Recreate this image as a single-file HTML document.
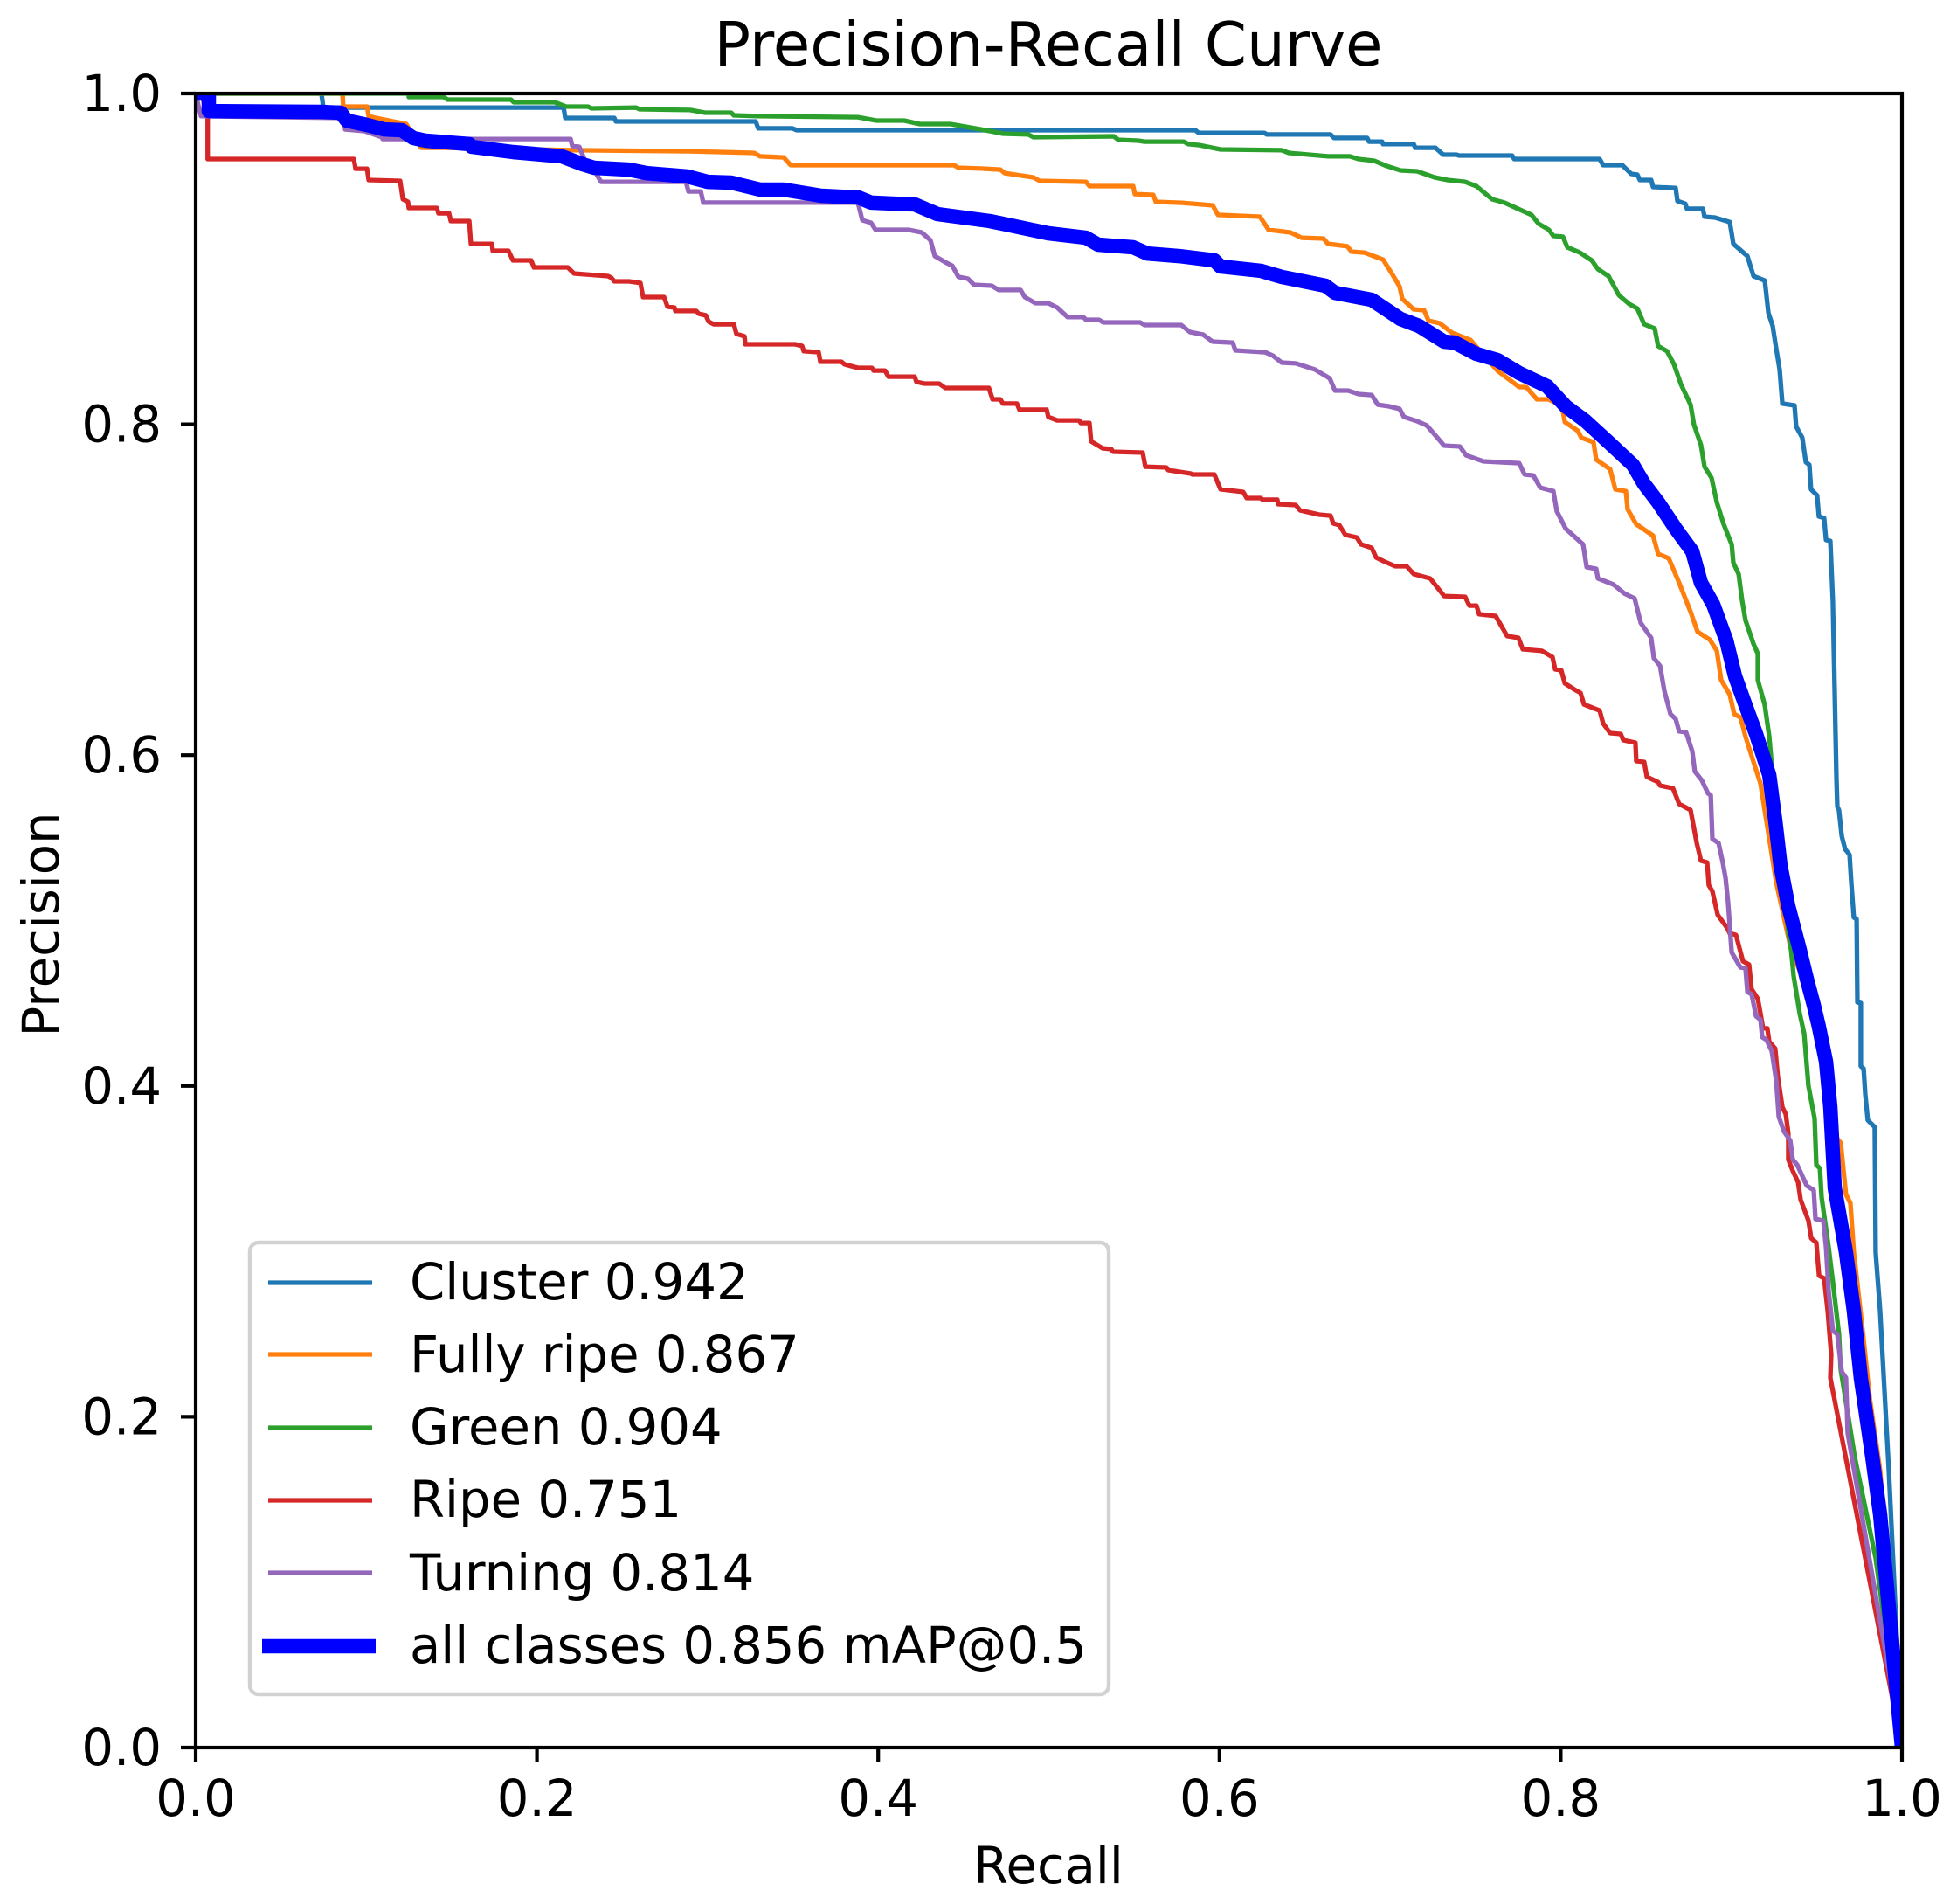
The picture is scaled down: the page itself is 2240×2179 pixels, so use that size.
<!DOCTYPE html>
<html lang="en">
<head>
<meta charset="utf-8">
<title>Precision-Recall Curve</title>
<style>
html,body{margin:0;padding:0;background:#fff}
svg{display:block}
text{font-family:"DejaVu Sans","Liberation Sans",sans-serif;fill:#000}
.lg{font-size:57.6px}
.tk{font-size:57.6px}
</style>
</head>
<body>
<svg id="chart" xmlns="http://www.w3.org/2000/svg" width="2240" height="2179" viewBox="0 0 2240 2179">
  <defs>
    <clipPath id="plot-clip"><rect x="224" y="107" width="1953" height="1893"/></clipPath>
  </defs>
  <rect x="0" y="0" width="2240" height="2179" fill="#fff"/>
  <g id="series-layer" clip-path="url(#plot-clip)" fill="none" stroke-linejoin="round"></g>
  <g id="tick-layer"></g>
  <rect x="224" y="107" width="1953" height="1893" fill="none" stroke="#000" stroke-width="4.2"/>
  <text x="1200" y="75" text-anchor="middle" font-size="69.1">Precision-Recall Curve</text>
  <text x="1200" y="2155" text-anchor="middle" font-size="57.6">Recall</text>
  <text transform="translate(67,1058) rotate(-90)" text-anchor="middle" font-size="57.6">Precision</text>
  <g>
    <rect x="286" y="1422" width="983" height="517" rx="10" ry="10" fill="#fff" fill-opacity="0.8" stroke="#d2d2d2" stroke-width="4.4"/>
    <line x1="307" x2="426" y1="1468" y2="1468" stroke="#1f77b4" stroke-width="5.3"/>
    <text class="lg" x="469" y="1487">Cluster 0.942</text>
    <line x1="307" x2="426" y1="1550" y2="1550" stroke="#ff7f0e" stroke-width="5.3"/>
    <text class="lg" x="469" y="1570">Fully ripe 0.867</text>
    <line x1="307" x2="426" y1="1634" y2="1634" stroke="#2ca02c" stroke-width="5.3"/>
    <text class="lg" x="469" y="1653">Green 0.904</text>
    <line x1="307" x2="426" y1="1717" y2="1717" stroke="#d62728" stroke-width="5.3"/>
    <text class="lg" x="469" y="1736">Ripe 0.751</text>
    <line x1="307" x2="426" y1="1800" y2="1800" stroke="#9467bd" stroke-width="5.3"/>
    <text class="lg" x="469" y="1820">Turning 0.814</text>
    <line x1="300" x2="430" y1="1884" y2="1884" stroke="#0000ff" stroke-width="16.5"/>
    <text class="lg" x="469" y="1903">all classes 0.856 mAP@0.5</text>
  </g>
</svg>
<script>
const xTickValues = [0, 0.2, 0.4, 0.6, 0.8, 1];
const yTickValues = [0, 0.2, 0.4, 0.6, 0.8, 1];
const xTickLabels = ['0.0', '0.2', '0.4', '0.6', '0.8', '1.0'];
const yTickLabels = ['0.0', '0.2', '0.4', '0.6', '0.8', '1.0'];

const clusterRecall = [0,.0737,.0748,.2156,.2166,.2453,.2463,.3282,.3297,.3497,.3523,.5858,.5878,.6262,.6278,.6651,.6672,.6866,.6877,.6953,.6959,.7138,.7148,.7266,.7312,.7389,.7404,.7716,.7727,.8228,.8249,.8361,.8413,.8449,.8464,.8530,.8541,.8674,.8684,.8730,.8740,.8833,.8843,.8904,.8991,.9012,.9094,.9130,.9196,.9217,.9242,.9263,.9283,.9299,.9370,.9380,.9416,.9437,.9457,.9467,.9503,.9513,.9544,.9555,.9580,.9595,.9616,.9621,.9631,.9647,.9667,.9693,.9703,.9718,.9734,.9739,.9759,.9759,.9775,.9785,.9800,.9841,.9846,.9872,.9923,1];
const clusterPrecision = [1,1,.9915,.9915,.9852,.9852,.9831,.9831,.9789,.9789,.9778,.9778,.9762,.9762,.9752,.9752,.9731,.9731,.9709,.9709,.9694,.9694,.9672,.9672,.9630,.9630,.9625,.9625,.9604,.9604,.9567,.9567,.9514,.9509,.9477,.9477,.9435,.9429,.9350,.9334,.9303,.9303,.9255,.9250,.9223,.9091,.9017,.8896,.8869,.8674,.8595,.8457,.8331,.8125,.8114,.7987,.7919,.7771,.7755,.7607,.7570,.7443,.7433,.7301,.7295,.6931,.5864,.5689,.5668,.5510,.5431,.5399,.5230,.5019,.5008,.4506,.4501,.4120,.4105,.3951,.3793,.3751,.2995,.2641,.1675,0];

const fullyRipeRecall = [0,.0860,.0865,.1004,.1014,.1055,.1234,.1321,.1464,.2217,.2898,.3272,.3308,.3446,.3487,.4444,.4470,.4603,.4716,.4741,.4910,.4946,.5218,.5238,.5494,.5504,.5612,.5627,.5781,.5960,.5991,.6237,.6288,.6416,.6482,.6610,.6636,.6749,.6774,.6851,.6959,.7010,.7056,.7071,.7138,.7199,.7225,.7291,.7363,.7471,.7629,.7757,.7798,.7860,.7931,.8008,.8024,.8100,.8121,.8192,.8208,.8290,.8320,.8382,.8392,.8443,.8541,.8571,.8633,.8694,.8761,.8802,.8874,.8915,.8940,.8991,.9017,.9053,.9083,.9130,.9171,.9263,.9350,.9483,.9555,.9606,.9641,.9672,.9698,.9718,.9775,.9811,.9872,1];
const fullyRipePrecision = [1,1,.9921,.9921,.9863,.9852,.9815,.9672,.9672,.9657,.9651,.9641,.9620,.9614,.9567,.9567,.9551,.9546,.9540,.9519,.9493,.9472,.9466,.9440,.9440,.9392,.9387,.9345,.9339,.9324,.9266,.9255,.9176,.9160,.9128,.9123,.9091,.9076,.9044,.9038,.8996,.8912,.8833,.8759,.8695,.8690,.8627,.8611,.8553,.8510,.8325,.8225,.8225,.8151,.8151,.8109,.8014,.7961,.7919,.7892,.7787,.7728,.7607,.7596,.7486,.7396,.7327,.7216,.7190,.7042,.6867,.6746,.6698,.6630,.6455,.6366,.6249,.6228,.6112,.5959,.5827,.5230,.4823,.4490,.4147,.3698,.3656,.3344,.3291,.2995,.2467,.2113,.1675,0];

const greenRecall = [0,.1249,.1249,.1454,.1475,.1848,.1864,.2104,.2171,.2299,.2320,.2581,.2601,.2898,.2985,.3139,.3154,.3292,.3881,.3989,.4153,.4245,.4424,.4603,.4731,.4880,.4910,.5381,.5407,.5525,.5561,.5791,.5817,.5883,.6006,.6365,.6406,.6636,.6764,.6815,.6907,.6979,.7061,.7158,.7261,.7337,.7440,.7506,.7598,.7670,.7829,.7870,.7931,.7957,.8013,.8039,.8111,.8182,.8218,.8280,.8341,.8402,.8449,.8489,.8551,.8571,.8623,.8664,.8705,.8761,.8781,.8822,.8843,.8884,.8915,.8955,.9002,.9012,.9043,.9063,.9083,.9130,.9155,.9155,.9196,.9222,.9237,.9334,.9350,.9365,.9401,.9427,.9452,.9488,.9498,.9519,.9529,.9570,.9595,.9631,.9641,.9723,.9846,1];
const greenPrecision = [1,1,.9979,.9979,.9963,.9963,.9947,.9947,.9921,.9921,.9910,.9915,.9905,.9900,.9884,.9884,.9868,.9863,.9857,.9836,.9836,.9815,.9815,.9783,.9757,.9752,.9736,.9741,.9720,.9715,.9709,.9709,.9694,.9688,.9662,.9657,.9641,.9620,.9620,.9604,.9593,.9562,.9535,.9530,.9493,.9477,.9466,.9440,.9361,.9340,.9266,.9213,.9176,.9139,.9134,.9070,.9039,.8991,.8938,.8896,.8780,.8727,.8700,.8605,.8579,.8473,.8442,.8362,.8241,.8119,.7998,.7876,.7744,.7676,.7528,.7396,.7274,.7163,.7094,.6936,.6815,.6672,.6614,.6455,.6302,.6112,.5932,.4929,.4823,.4665,.4437,.4316,.3999,.3803,.3523,.3502,.3328,.3027,.2816,.2499,.2287,.1759,.1146,0];

const ripeRecall = [0,.004,.007,.007,.0927,.0937,.1004,.1014,.1198,.1214,.1244,.1249,.1413,.1423,.1485,.1495,.1603,.1613,.1736,.1741,.1833,.1859,.1966,.1982,.2181,.2217,.2417,.2437,.2453,.2540,.2606,.2622,.2745,.2765,.2806,.2811,.2934,.2949,.2990,.3006,.3036,.3154,.3169,.3216,.3221,.3513,.3554,.3564,.3651,.3661,.3784,.3804,.3881,.3963,.3973,.4040,.4060,.4214,.4224,.4270,.4357,.4393,.4649,.4670,.4716,.4731,.4813,.4828,.4987,.4997,.5049,.5177,.5187,.5238,.5248,.5315,.5366,.5376,.5550,.5566,.5689,.5699,.5832,.5842,.5970,.6006,.6139,.6160,.6242,.6252,.6339,.6344,.6447,.6472,.6585,.6651,.6667,.6703,.6738,.6805,.6830,.6892,.6918,.6959,.7030,.7097,.7138,.7235,.7317,.7440,.7465,.7506,.7522,.7619,.7686,.7752,.7778,.7890,.7952,.7967,.8003,.8024,.8080,.8116,.8136,.8228,.8249,.8290,.8351,.8367,.8438,.8443,.8489,.8505,.8571,.8582,.8658,.8694,.8761,.8797,.8822,.8858,.8868,.8889,.8920,.8976,.8991,.9027,.9068,.9104,.9119,.9155,.9171,.9186,.9211,.9222,.9257,.9273,.9299,.9319,.9334,.9334,.9360,.9391,.9406,.9452,.9468,.9498,.9514,.9544,.9565,.9585,.9580,1];
const ripePrecision = [1,.998,.985,.9604,.9604,.9545,.9545,.9477,.9472,.9361,.9345,.9308,.9308,.9276,.9276,.9229,.9229,.9091,.9091,.9049,.9049,.8991,.8991,.8949,.8949,.8912,.8896,.8885,.8864,.8864,.8854,.8769,.8769,.8711,.8706,.8685,.8685,.8669,.8658,.8621,.8605,.8605,.8547,.8532,.8484,.8484,.8474,.8442,.8436,.8378,.8378,.8362,.8341,.8341,.8325,.8325,.8288,.8288,.8257,.8246,.8246,.8220,.8220,.8151,.8151,.8125,.8125,.8088,.8088,.8045,.8024,.8024,.8008,.8008,.7897,.7855,.7850,.7834,.7829,.7744,.7739,.7723,.7702,.7697,.7697,.7607,.7591,.7554,.7554,.7544,.7544,.7517,.7512,.7480,.7454,.7448,.7401,.7390,.7332,.7316,.7274,.7253,.7195,.7174,.7142,.7142,.7095,.7068,.6962,.6957,.6904,.6904,.6852,.6841,.6720,.6709,.6640,.6630,.6593,.6519,.6513,.6434,.6397,.6376,.6307,.6270,.6191,.6133,.6128,.6091,.6075,.5964,.5959,.5869,.5837,.5816,.5800,.5705,.5668,.5468,.5362,.5351,.5214,.5177,.5034,.4955,.4923,.4913,.4754,.4733,.4585,.4527,.4437,.4348,.4348,.4268,.4226,.4052,.3872,.3830,.3714,.3555,.3487,.3418,.3312,.3185,.3080,.3053,.2853,.2837,.2641,.2377,.2235,0];

const turningRecall = [0,.0015,.0031,.0865,.0876,.0988,.1091,.1096,.2197,.2207,.2248,.2284,.2345,.2376,.2873,.2888,.2960,.2975,.3881,.3907,.3958,.3984,.4178,.4255,.4306,.4332,.4393,.4434,.4470,.4526,.4562,.4665,.4706,.4834,.4859,.4921,.4997,.5049,.5110,.5202,.5218,.5294,.5320,.5535,.5561,.5776,.5827,.5904,.5960,.6078,.6093,.6267,.6313,.6365,.6447,.6559,.6646,.6677,.6754,.6815,.6892,.6928,.6994,.7056,.7081,.7158,.7215,.7286,.7317,.7409,.7445,.7547,.7757,.7788,.7839,.7880,.7957,.7977,.8029,.8131,.8152,.8208,.8218,.8310,.8372,.8433,.8469,.8530,.8546,.8582,.8607,.8643,.8674,.8694,.8735,.8771,.8786,.8827,.8863,.8879,.8889,.8925,.8950,.8966,.8981,.9002,.9053,.9083,.9094,.9119,.9145,.9171,.9181,.9206,.9237,.9263,.9278,.9309,.9345,.9360,.9386,.9442,.9483,.9493,.9539,.9555,.9570,.9595,.9621,.9647,.9672,.9682,1];
const turningPrecision = [1,.9931,.9863,.9852,.9783,.9773,.9736,.9725,.9725,.9683,.9678,.9588,.9519,.9466,.9466,.9408,.9408,.9340,.9340,.9234,.9218,.9176,.9176,.9160,.9113,.9017,.8980,.8959,.8891,.8880,.8843,.8838,.8812,.8812,.8769,.8732,.8732,.8706,.8648,.8648,.8632,.8632,.8616,.8616,.8600,.8600,.8558,.8542,.8500,.8494,.8447,.8436,.8415,.8373,.8368,.8331,.8278,.8204,.8204,.8183,.8177,.8119,.8109,.8093,.8045,.8019,.7993,.7908,.7871,.7866,.7813,.7776,.7765,.7697,.7691,.7617,.7596,.7475,.7369,.7274,.7137,.7126,.7068,.7031,.6978,.6947,.6799,.6709,.6587,.6540,.6392,.6249,.6218,.6144,.6138,.6022,.5901,.5848,.5769,.5758,.5494,.5468,.5351,.5256,.5108,.4807,.4717,.4712,.4569,.4554,.4422,.4400,.4295,.4279,.4210,.4031,.3814,.3724,.3671,.3555,.3523,.3397,.3370,.3196,.3185,.3027,.2763,.2520,.2499,.2272,.2235,.1902,0];

const allClassesRecall = [0,.0077,.0077,.0732,.0850,.0886,.1004,.1106,.1208,.1275,.1347,.1603,.1618,.1859,.2145,.2268,.2335,.2540,.2642,.2883,.3001,.3139,.3308,.3446,.3666,.3886,.3958,.4214,.4347,.4654,.4997,.5218,.5289,.5494,.5576,.5765,.5970,.6006,.6242,.6365,.6621,.6677,.6892,.7061,.7169,.7317,.7378,.7506,.7629,.7757,.7921,.8029,.8141,.8280,.8423,.8489,.8571,.8674,.8771,.8822,.8894,.8971,.9022,.9083,.9145,.9222,.9258,.9288,.9334,.9401,.9442,.9483,.9513,.9555,.9580,.9606,.9672,.9718,.9759,.9826,.9872,1];
const allClassesPrecision = [1,1,.9894,.9889,.9884,.9836,.9810,.9783,.9778,.9731,.9715,.9694,.9678,.9646,.9620,.9572,.9551,.9540,.9519,.9498,.9466,.9461,.9419,.9419,.9382,.9371,.9340,.9329,.9271,.9229,.9155,.9128,.9086,.9070,.9033,.9017,.8991,.8954,.8928,.8891,.8838,.8795,.8753,.8637,.8595,.8500,.8494,.8426,.8389,.8310,.8230,.8109,.8024,.7892,.7755,.7639,.7528,.7369,.7232,.7042,.6910,.6693,.6476,.6302,.6128,.5880,.5600,.5335,.5087,.4823,.4649,.4490,.4358,.4147,.3872,.3381,.2995,.2641,.2235,.1759,.1410,0];

const SVG_NS = 'http://www.w3.org/2000/svg';
const plotLeft = 224, plotRight = 2177, plotTop = 107, plotBottom = 2000;
function xAxis(v) { return plotLeft + v * (plotRight - plotLeft); }
function yAxis(v) { return plotBottom - v * (plotBottom - plotTop); }

const seriesLayer = document.getElementById('series-layer');
const tickLayer = document.getElementById('tick-layer');

function drawSeries(recall, precision, color, width, seriesName) {
  const path = document.createElementNS(SVG_NS, 'path');
  let d = '';
  for (let i = 0; i < recall.length; i++) {
    d += (i ? 'L' : 'M') + xAxis(recall[i]).toFixed(1) + ' ' + yAxis(precision[i]).toFixed(1);
  }
  path.setAttribute('d', d);
  path.setAttribute('stroke', color);
  path.setAttribute('stroke-width', width);
  
  
  seriesLayer.appendChild(path);
}

drawSeries(clusterRecall, clusterPrecision, '#1f77b4', 5.3, 'curve-cluster');
drawSeries(fullyRipeRecall, fullyRipePrecision, '#ff7f0e', 5.3, 'curve-fully-ripe');
drawSeries(greenRecall, greenPrecision, '#2ca02c', 5.3, 'curve-green');
drawSeries(ripeRecall, ripePrecision, '#d62728', 5.3, 'curve-ripe');
drawSeries(turningRecall, turningPrecision, '#9467bd', 5.3, 'curve-turning');
drawSeries(allClassesRecall, allClassesPrecision, '#0000ff', 16.5, 'curve-all-classes');

xTickValues.forEach(function (value, i) {
  const mark = document.createElementNS(SVG_NS, 'line');
  mark.setAttribute('x1', xAxis(value));
  mark.setAttribute('x2', xAxis(value));
  mark.setAttribute('y1', plotBottom);
  mark.setAttribute('y2', plotBottom + 17);
  mark.setAttribute('stroke', '#000');
  mark.setAttribute('stroke-width', '4.2');
  
  
  tickLayer.appendChild(mark);
  const label = document.createElementNS(SVG_NS, 'text');
  label.setAttribute('class', 'tk');
  label.setAttribute('x', xAxis(value));
  label.setAttribute('y', 2078);
  label.setAttribute('text-anchor', 'middle');
  
  
  label.textContent = xTickLabels[i];
  tickLayer.appendChild(label);
});

yTickValues.forEach(function (value, i) {
  const mark = document.createElementNS(SVG_NS, 'line');
  mark.setAttribute('x1', plotLeft - 17);
  mark.setAttribute('x2', plotLeft);
  mark.setAttribute('y1', yAxis(value));
  mark.setAttribute('y2', yAxis(value));
  mark.setAttribute('stroke', '#000');
  mark.setAttribute('stroke-width', '4.2');
  
  
  tickLayer.appendChild(mark);
  const label = document.createElementNS(SVG_NS, 'text');
  label.setAttribute('class', 'tk');
  label.setAttribute('x', 185);
  label.setAttribute('y', yAxis(value) + 20);
  label.setAttribute('text-anchor', 'end');
  
  
  label.textContent = yTickLabels[i];
  tickLayer.appendChild(label);
});
</script>
</body>
</html>
